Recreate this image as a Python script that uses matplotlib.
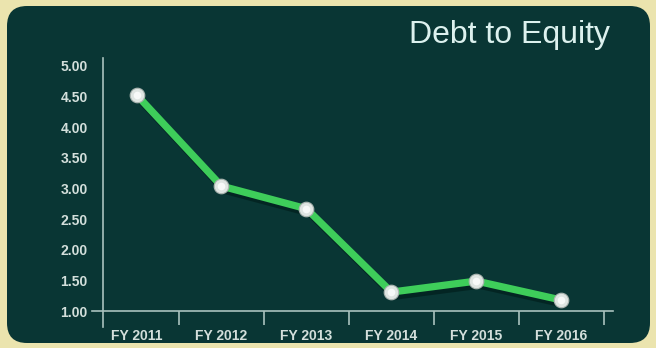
import matplotlib
matplotlib.use("Agg")
import matplotlib.pyplot as plt
from matplotlib.patches import FancyBboxPatch
from matplotlib.transforms import IdentityTransform
import matplotlib.patheffects as pe

# Debt-to-equity ratio by fiscal year
years = ["FY 2011", "FY 2012", "FY 2013", "FY 2014", "FY 2015", "FY 2016"]
debt_to_equity = [4.53, 3.04, 2.67, 1.31, 1.49, 1.18]
y_ticks = [1.0, 1.5, 2.0, 2.5, 3.0, 3.5, 4.0, 4.5, 5.0]
y_tick_labels = ["1.00", "1.50", "2.00", "2.50", "3.00", "3.50", "4.00", "4.50", "5.00"]

plt.rcParams["font.family"] = ["Liberation Sans", "DejaVu Sans"]

CREAM = "#ebe4ae"
PANEL = "#093634"
AXIS = "#a9c2bd"
LABEL = "#d3dfdb"
LINE = "#3ecd5a"

fig = plt.figure(figsize=(6.56, 3.48), dpi=100)
fig.patch.set_facecolor(CREAM)

# dark rounded panel behind the chart
panel = FancyBboxPatch((7, 5), 643, 337,
                       boxstyle="round,pad=0,rounding_size=20",
                       transform=IdentityTransform(),
                       facecolor=PANEL, edgecolor="none", zorder=-10)
fig.patches.append(panel)

ax = fig.add_axes([0.1402, 0.0603, 0.7942, 0.7730])
ax.set_facecolor("none")
ax.set_zorder(1)

x = list(range(len(years)))
ax.plot(x, debt_to_equity, color=LINE, linewidth=5.2, solid_joinstyle="round",
        solid_capstyle="round", zorder=3,
        path_effects=[pe.SimpleLineShadow(offset=(2, -3), shadow_color="#011f1c", alpha=0.7),
                      pe.Normal()])
ax.plot(x, debt_to_equity, linestyle="none", marker="o", markersize=10.5,
        markerfacecolor="#dfe5e2", markeredgecolor="#aab4b0", markeredgewidth=0.8, zorder=4)
ax.plot(x, debt_to_equity, linestyle="none", marker="o", markersize=5.5,
        markerfacecolor="#f7f9f8", markeredgecolor="none", zorder=5)

ax.set_xlim(-0.524, 5.606)
ax.set_ylim(0.74, 5.13)

for side in ("top", "right"):
    ax.spines[side].set_visible(False)
ax.spines["bottom"].set_position(("data", 1.0))
ax.spines["left"].set_position(("data", -0.394))
for side in ("bottom", "left"):
    ax.spines[side].set_color(AXIS)
    ax.spines[side].set_linewidth(1.2)

# category dividers below the x axis, labels centred between them
ax.set_xticks([i + 0.5 for i in range(len(years))])
ax.set_xticklabels([])
ax.tick_params(axis="x", which="major", direction="out", length=10, width=1.2, color=AXIS)
ax.set_xticks(x, minor=True)
ax.set_xticklabels(years, minor=True)
ax.tick_params(axis="x", which="minor", length=0, pad=13, labelsize=10, labelcolor=LABEL)
for t in ax.get_xticklabels(minor=True):
    t.set_fontweight("bold")

ax.set_yticks(y_ticks)
ax.set_yticklabels(y_tick_labels)
ax.tick_params(axis="y", length=0, pad=11, labelsize=10, labelcolor=LABEL)
for t in ax.get_yticklabels():
    t.set_fontweight("bold")

fig.text(610 / 656, 1 - 43 / 348, "Debt to Equity", ha="right", va="baseline",
         fontsize=23, color="#dcf1ee")

fig.savefig("out.png", dpi=100, facecolor=CREAM)
